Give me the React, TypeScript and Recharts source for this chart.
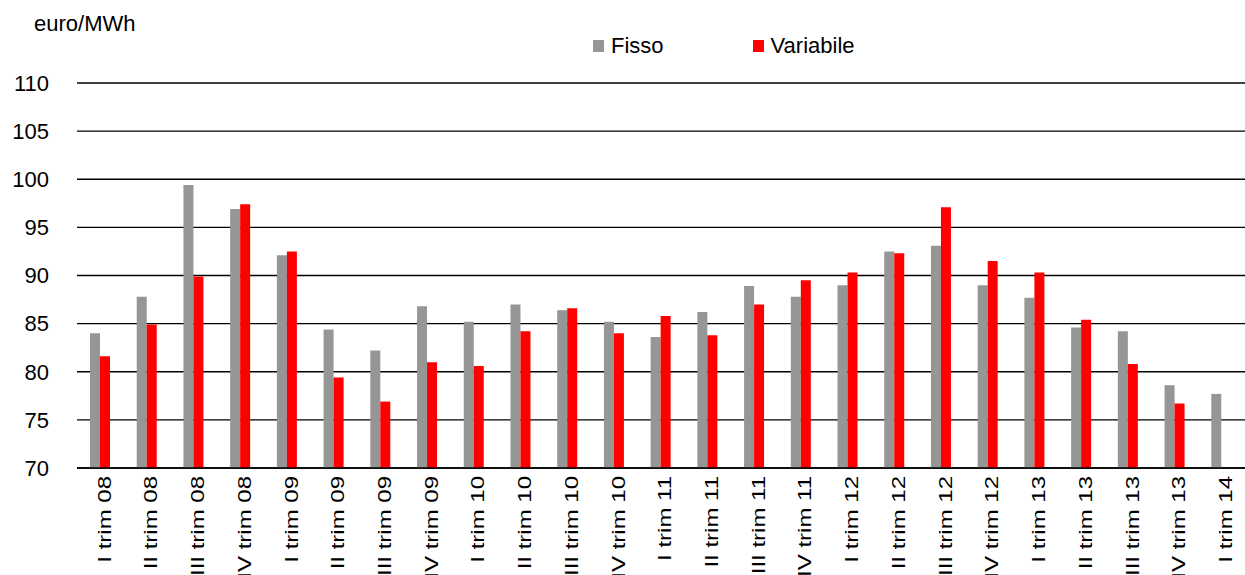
import { BarChart, Bar, XAxis, YAxis, CartesianGrid, Legend } from 'recharts';

const categories = [
  'I trim 08', 'II trim 08', 'III trim 08', 'IV trim 08',
  'I trim 09', 'II trim 09', 'III trim 09', 'IV trim 09',
  'I trim 10', 'II trim 10', 'III trim 10', 'IV trim 10',
  'I trim 11', 'II trim 11', 'III trim 11', 'IV trim 11',
  'I trim 12', 'II trim 12', 'III trim 12', 'IV trim 12',
  'I trim 13', 'II trim 13', 'III trim 13', 'IV trim 13',
  'I trim 14',
];

const fisso = [
  84.0, 87.8, 99.4, 96.9, 92.1, 84.4, 82.2, 86.8, 85.2, 87.0, 86.4, 85.2,
  83.6, 86.2, 88.9, 87.8, 89.0, 92.5, 93.1, 89.0, 87.7, 84.6, 84.2, 78.6, 77.7,
];

const variabile = [
  81.6, 84.9, 89.9, 97.4, 92.5, 79.4, 76.9, 81.0, 80.6, 84.2, 86.6, 84.0,
  85.8, 83.8, 87.0, 89.5, 90.3, 92.3, 97.1, 91.5, 90.3, 85.4, 80.8, 76.7, null,
];

const yTicks = [70, 75, 80, 85, 90, 95, 100, 105, 110];

const data = categories.map((label, i) => ({
  label,
  fisso: fisso[i],
  variabile: variabile[i],
}));

const FONT = '"Liberation Sans", Arial, sans-serif';

// rotated, slightly squashed labels like the Excel export
function XTick({ x, y, payload }: any) {
  return (
    <text
      transform={`translate(${x + 4}, ${y}) rotate(-90) scale(1, 0.74)`}
      textAnchor="end"
      dominantBaseline="central"
      fontSize={24}
      fontFamily={FONT}
      fill="#000"
    >
      {payload.value}
    </text>
  );
}

function LegendContent() {
  const item = (color: string, text: string, ml: number) => (
    <div style={{ display: 'flex', alignItems: 'center', marginLeft: ml }}>
      <span style={{ width: 11, height: 12, background: color, display: 'inline-block', marginRight: 7 }} />
      <span style={{ fontSize: 22, fontFamily: FONT, color: '#000' }}>{text}</span>
    </div>
  );
  return (
    <div style={{ display: 'flex' }}>
      {item('#969696', 'Fisso', 0)}
      {item('#ff0000', 'Variabile', 89)}
    </div>
  );
}

export default function App() {
  return (
    <div style={{ position: 'absolute', left: 0, top: 0, width: 1245, height: 575, overflow: 'hidden', background: '#fff' }}>
      <div style={{ position: 'absolute', left: 34, top: 11, fontSize: 22, fontFamily: FONT, color: '#000' }}>
        euro/MWh
      </div>
      <BarChart
        width={1245}
        height={575}
        data={data}
        margin={{ top: 83, right: 0, left: 0, bottom: 0 }}
        barSize={10}
        barGap={0}
      >
        <CartesianGrid horizontal vertical={false} stroke="#000" strokeWidth={1.4} />
        <XAxis
          dataKey="label"
          interval={0}
          height={107}
          tickLine={false}
          axisLine={{ stroke: '#000', strokeWidth: 1.4 }}
          tick={<XTick />}
        />
        <YAxis
          domain={[70, 110]}
          ticks={yTicks}
          width={77}
          axisLine={false}
          tickLine={false}
          tickSize={0}
          tickMargin={28}
          allowDataOverflow
          tick={{ fontSize: 22, fontFamily: FONT, fill: '#000' }}
        />
        <Legend
          verticalAlign="middle"
          content={<LegendContent />}
          wrapperStyle={{ position: 'absolute', top: 33, left: 593, width: 'auto' }}
        />
        <Bar dataKey="fisso" name="Fisso" fill="#969696" isAnimationActive={false} />
        <Bar dataKey="variabile" name="Variabile" fill="#ff0000" isAnimationActive={false} />
      </BarChart>
    </div>
  );
}
